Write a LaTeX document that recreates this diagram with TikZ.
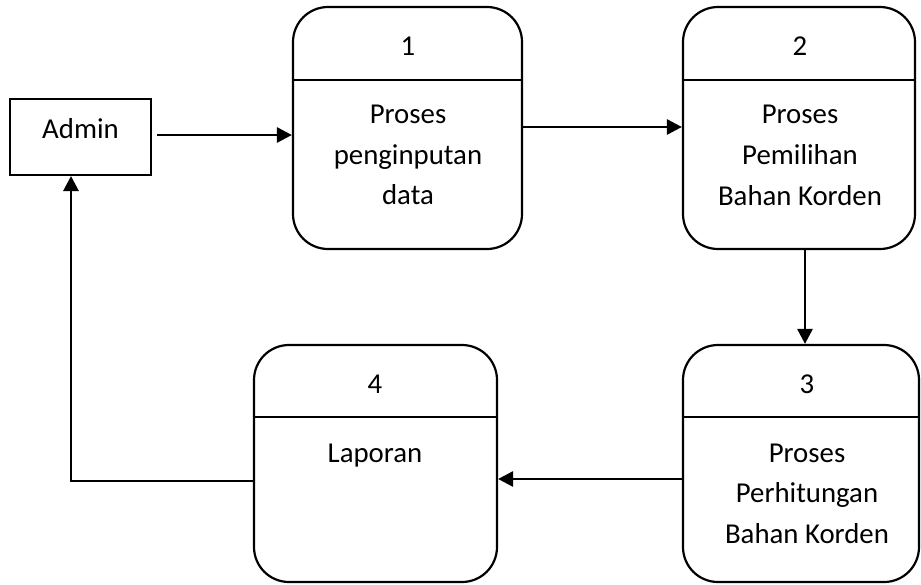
\documentclass[tikz,border=0pt]{standalone}
\usepackage{fontspec}
\setmainfont{Carlito}
\usetikzlibrary{arrows.meta}
\begin{document}
\begin{tikzpicture}[x=1pt,y=-1pt]
\tikzset{
 proc/.style={draw,line width=2.2pt,rounded corners=35pt,inner sep=0pt,fill=white},
 ent/.style={draw,line width=2pt,inner sep=0pt},
 lbl/.style={font=\fontsize{28.8}{40}\selectfont,anchor=base,inner sep=0pt},
 arr/.style={line width=2.8pt,-{Triangle[length=15pt,width=15pt]}},
 div/.style={line width=2.2pt}
}
\path[use as bounding box] (0,0) rectangle (921,584);

% entity
\node[ent,minimum width=141pt,minimum height=76pt] (adm) at (80.5,137) {};
\node[lbl] (admt) at (80.5,138) {Admin};

% process 1
\node[proc,minimum width=229pt,minimum height=242pt] (p1) at (407.5,128) {};
\draw[div] (p1.west |- 0,80) -- (p1.east |- 0,80);
\node[lbl] (n1) at (408,55) {1};
\node[lbl] (t1a) at (408,123) {Proses};
\node[lbl] (t1b) at (408,164) {penginputan};
\node[lbl] (t1c) at (408,204) {data};

% process 2
\node[proc,minimum width=232pt,minimum height=242pt] (p2) at (799,128) {};
\draw[div] (p2.west |- 0,80) -- (p2.east |- 0,80);
\node[lbl] (n2) at (800,55) {2};
\node[lbl] (t2a) at (800,123) {Proses};
\node[lbl] (t2b) at (800,164) {Pemilihan};
\node[lbl] (t2c) at (800,205) {Bahan Korden};

% process 3
\node[proc,minimum width=236pt,minimum height=237pt] (p3) at (801,463.5) {};
\draw[div] (p3.west |- 0,417) -- (p3.east |- 0,417);
\node[lbl] (n3) at (807,393) {3};
\node[lbl] (t3a) at (807,462) {Proses};
\node[lbl] (t3b) at (807,502) {Perhitungan};
\node[lbl] (t3c) at (807,543) {Bahan Korden};

% process 4
\node[proc,minimum width=243pt,minimum height=237pt] (p4) at (375.5,463.5) {};
\draw[div] (p4.west |- 0,417) -- (p4.east |- 0,417);
\node[lbl] (n4) at (375,393) {4};
\node[lbl] (t4a) at (375,462) {Laporan};

% flows
\draw[arr] ([xshift=5pt]adm.east |- 0,135) -- (p1.west |- 0,135);
\draw[arr] (p1.east |- 0,127) -- (p2.west |- 0,127);
\draw[arr] (p2.south -| 805,0) -- (p3.north -| 805,0);
\draw[arr] (p3.west |- 0,479) -- (p4.east |- 0,479);
\draw[arr] (p4.west |- 0,481) -| (adm.south -| 71,0);
\end{tikzpicture}
\end{document}
